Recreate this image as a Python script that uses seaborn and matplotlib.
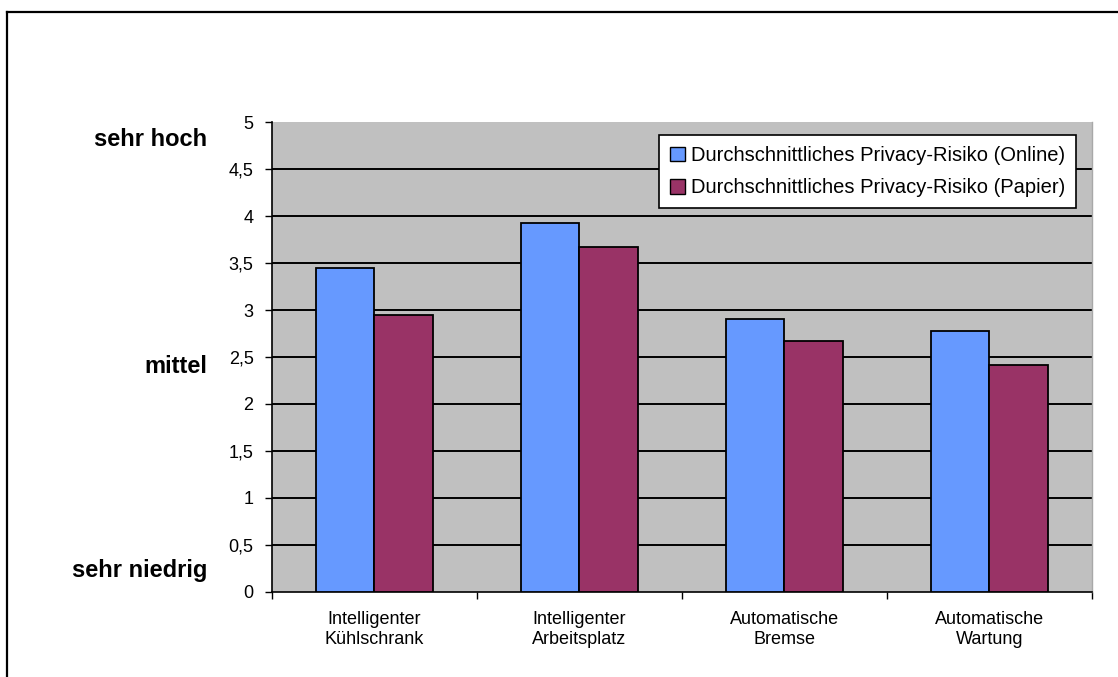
import matplotlib
matplotlib.use("Agg")
import matplotlib.pyplot as plt
from matplotlib.lines import Line2D
from matplotlib.patches import Patch
import seaborn as sns
import pandas as pd
import numpy as np

# Scenarios and mean privacy-risk ratings per survey mode
categories = ["Intelligenter\nKühlschrank", "Intelligenter\nArbeitsplatz",
              "Automatische\nBremse", "Automatische\nWartung"]
online = [3.45, 3.93, 2.91, 2.78]
papier = [2.95, 3.67, 2.67, 2.42]
series_names = ["Durchschnittliches Privacy-Risiko (Online)",
                "Durchschnittliches Privacy-Risiko (Papier)"]
y_ticks = [0, 0.5, 1, 1.5, 2, 2.5, 3, 3.5, 4, 4.5, 5]
y_tick_labels = ["0", "0,5", "1", "1,5", "2", "2,5", "3", "3,5", "4", "4,5", "5"]
scale_labels = ["sehr hoch", "mittel", "sehr niedrig"]
scale_positions = [4.82, 2.40, 0.23]

colors = ["#6699FF", "#993366"]

df = pd.DataFrame({
    "Szenario": categories * 2,
    "Wert": online + papier,
    "Serie": [series_names[0]] * len(categories) + [series_names[1]] * len(categories),
})

plt.rcParams["font.family"] = ["Liberation Sans", "DejaVu Sans"]

fig = plt.figure(figsize=(11.18, 6.77), dpi=100)
fig.patch.set_facecolor("white")
ax = fig.add_axes([0.243, 0.126, 0.7335, 0.6933])
ax.set_facecolor("#C0C0C0")

sns.barplot(data=df, x="Szenario", y="Wert", hue="Serie", order=categories,
            hue_order=series_names, palette=colors, saturation=1,
            width=2 / 3.5, edgecolor="black", linewidth=1.3, errorbar=None,
            ax=ax, zorder=3)

# axes limits and ticks
ax.set_xlim(-0.5, len(categories) - 0.5)
ax.set_ylim(0, 5)
ax.set_yticks(y_ticks)
ax.set_yticklabels(y_tick_labels, fontsize=13)
ax.set_xticks(range(len(categories)))
ax.set_xticklabels(categories, fontsize=13, linespacing=1.25)
ax.set_xticks(np.arange(-0.5, len(categories), 1.0), minor=True)
ax.tick_params(axis="x", which="major", length=0, pad=14)
ax.tick_params(axis="x", which="minor", length=5, width=1, direction="out")
ax.tick_params(axis="y", length=5, width=1, direction="out", pad=8)
ax.set_xlabel("")
ax.set_ylabel("")

# horizontal gridlines
ax.set_axisbelow(True)
ax.yaxis.grid(True, color="black", linewidth=1.4)
ax.xaxis.grid(False)
ax.get_ygridlines()[-1].set_visible(False)
ax.get_ygridlines()[0].set_visible(False)

ax.spines["top"].set_visible(False)
ax.spines["right"].set_color("#A8A8A8")
ax.spines["right"].set_linewidth(1)
ax.spines["left"].set_color("black")
ax.spines["bottom"].set_color("black")
ax.spines["left"].set_linewidth(1.2)
ax.spines["bottom"].set_linewidth(1.2)

# verbal scale anchors
for label, pos in zip(scale_labels, scale_positions):
    ax.text(-0.079, pos, label, transform=ax.get_yaxis_transform(),
            ha="right", va="center", fontsize=17, fontweight="bold")

# legend
handles = [Patch(facecolor=c, edgecolor="black", linewidth=1) for c in colors]
leg = ax.legend(handles, series_names, loc="upper right",
                bbox_to_anchor=(0.981, 0.973), fontsize=14.5, frameon=True,
                fancybox=False, edgecolor="black", facecolor="white",
                framealpha=1, handlelength=0.75, handleheight=0.75,
                handletextpad=0.3, borderpad=0.55, labelspacing=0.65,
                borderaxespad=0)
leg.get_frame().set_linewidth(1.2)

# frame around the figure (top and left edges)
fig.add_artist(Line2D([6.5 / 1118, 1.0], [1 - 11.5 / 677, 1 - 11.5 / 677],
                      transform=fig.transFigure, color="black", linewidth=1.6))
fig.add_artist(Line2D([6.5 / 1118, 6.5 / 1118], [0.0, 1 - 11.5 / 677],
                      transform=fig.transFigure, color="black", linewidth=1.6))

fig.savefig("out.png", dpi=100)
